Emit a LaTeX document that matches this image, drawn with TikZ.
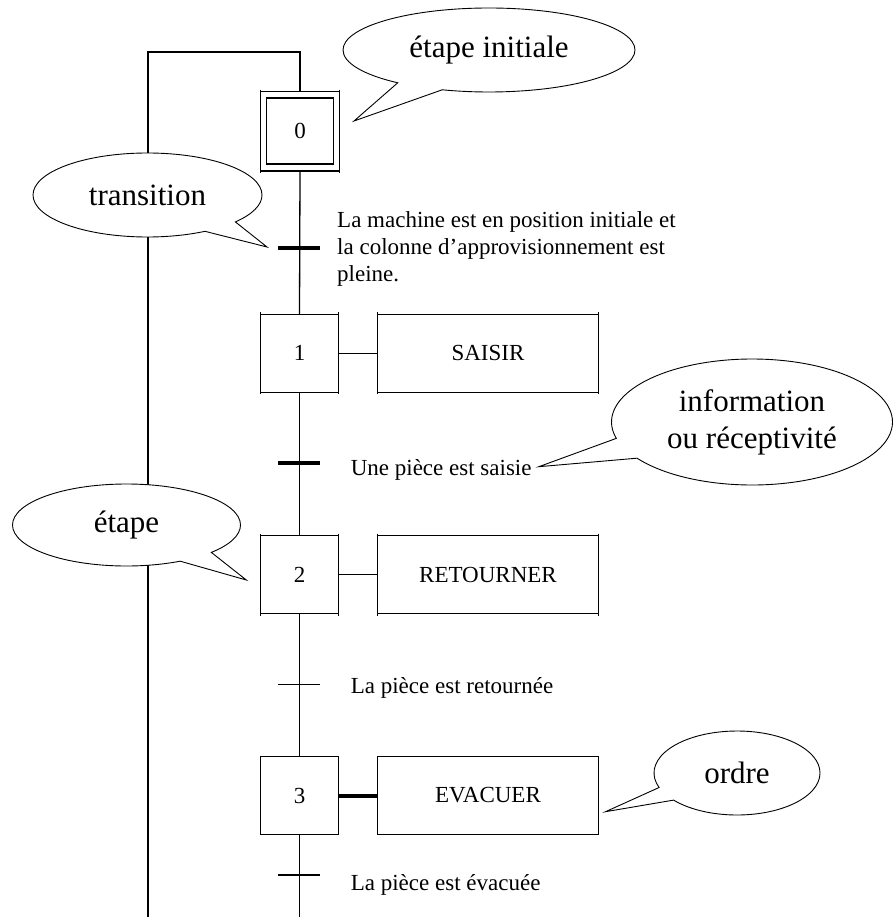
\documentclass[tikz,border=0pt]{standalone}
\usepackage{fontspec}
\setmainfont{Liberation Serif}
\usetikzlibrary{shapes.callouts}
\begin{document}
\begin{tikzpicture}[x=1pt,y=-1pt,
  link/.style={line width=1.3pt},
  stepbox/.style={draw, line width=1.3pt, minimum width=78, minimum height=78,
    inner sep=0, outer sep=0, font=\fontsize{23}{27}\selectfont},
  actionbox/.style={draw, line width=1.3pt, minimum width=221, minimum height=78,
    inner sep=0, outer sep=0, font=\fontsize{23}{27}\selectfont},
  tbar/.style={fill=black, minimum width=42, minimum height=4, inner sep=0, outer sep=0},
  tbarthin/.style={fill=black, minimum width=42, minimum height=1.5, inner sep=0, outer sep=0},
  cond/.style={font=\fontsize{23}{27}\selectfont, inner sep=0, anchor=base west},
  bubble/.style={ellipse callout, draw, fill=white, line width=0.9pt, inner sep=0,
    outer sep=0, font=\fontsize{31}{37}\selectfont, align=center, callout pointer arc=20},
]
\useasboundingbox (0,0) rectangle (894,917);

% steps
\node[stepbox, minimum width=78.6, minimum height=79.3] (s0) at (300,131.3) {0};
\draw[line width=1.3pt] ([shift={(6,6.5)}]s0.north west) rectangle ([shift={(-6,-7)}]s0.south east);
\node[stepbox] (s1) at (299.5,353.3) {1};
\node[stepbox] (s2) at (299.5,574.7) {2};
\node[stepbox] (s3) at (299.5,795.5) {3};

% actions
\node[actionbox] (a1) at (488,353.3) {SAISIR};
\node[actionbox] (a2) at (488,574.7) {RETOURNER};
\node[actionbox] (a3) at (488,795.5) {EVACUER};
\draw[link] (s1.east) -- (a1.west);
\draw[link] (s2.east) -- (a2.west);
\draw[line width=4pt] (s3.east) -- (a3.west);

% small overhang of the box sides past the corners
\foreach \n in {s0,s1,s2,a1,a2} {
  \draw[line width=1.3pt] ([yshift=2pt]\n.north west) -- ([yshift=-2pt]\n.south west);
  \draw[line width=1.3pt] ([yshift=2pt]\n.north east) -- ([yshift=-2pt]\n.south east);
}

% main flow and loop back
\coordinate (mainend) at (299.5,917);
\coordinate (looptop) at (148,52);
\coordinate (loopend) at (148,917);
\draw[link] (s0.south) -- (s1.north);
\draw[link] (s1.south) -- (s2.north);
\draw[link] (s2.south) -- (s3.north);
\draw[link] (s3.south) -- (mainend);
\draw[link] (s0.north) |- (looptop) -- (loopend);

% transitions
\node[tbar] (t0) at (299,248.3) {};
\node[tbar] (t1) at (299,462.7) {};
\node[tbarthin] (t2) at (299,684.3) {};
\node[tbarthin] (t3) at (299,875) {};

% receptivities
\node[cond, anchor=west, align=left] (c0) at (337,249)
  {La machine est en position initiale et\\la colonne d’approvisionnement est\\pleine.};
\node[cond] (c1) at (350.6,475) {Une pièce est saisie};
\node[cond] (c2) at (350.6,693) {La pièce est retournée};
\node[cond] (c3) at (350.6,890) {La pièce est évacuée};

% speech bubbles
\coordinate (p0) at (354,121);
\coordinate (p1) at (267,247);
\coordinate (p2) at (538.8,466.7);
\coordinate (p3) at (246.3,580);
\coordinate (p4) at (605.5,811.7);
\node[bubble, minimum width=292, minimum height=84, callout absolute pointer={(p0)}] (b0) at (489,50) {étape initiale};
\node[bubble, minimum width=229, minimum height=84, callout absolute pointer={(p1)}] (b1) at (147.5,195) {transition};
\node[bubble, minimum width=281, minimum height=126, callout absolute pointer={(p2)}] (b2) at (752,422) {information\\ou réceptivité};
\node[bubble, minimum width=228, minimum height=82, callout absolute pointer={(p3)}] (b3) at (126.5,525) {étape};
\node[bubble, minimum width=166, minimum height=84, callout absolute pointer={(p4)}] (b4) at (737,773) {ordre};
\end{tikzpicture}
\end{document}
